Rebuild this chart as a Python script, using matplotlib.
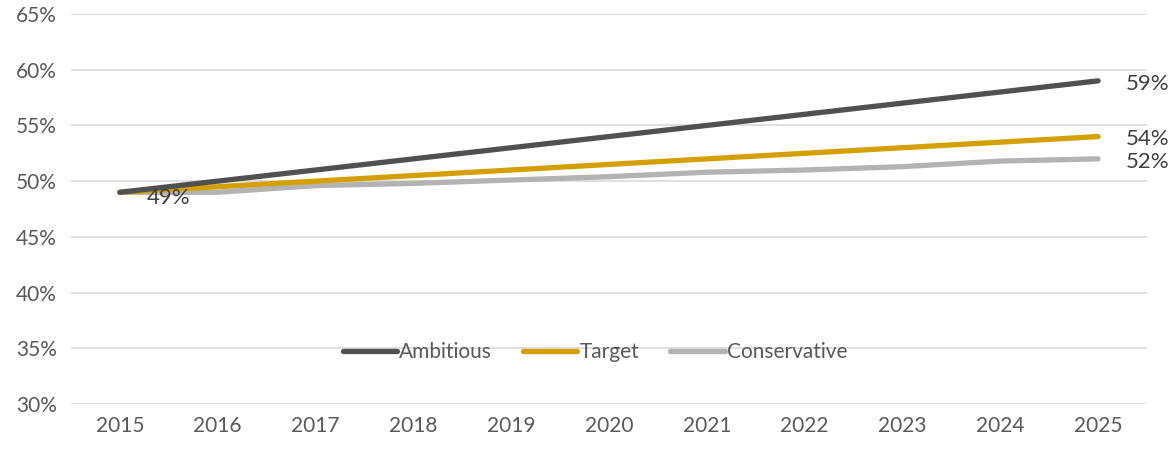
import matplotlib.pyplot as plt
from matplotlib.ticker import FuncFormatter

years = [2015, 2016, 2017, 2018, 2019, 2020, 2021, 2022, 2023, 2024, 2025]
ambitious = [49, 50, 51, 52, 53, 54, 55, 56, 57, 58, 59]
target = [49, 49.5, 50, 50.5, 51, 51.5, 52, 52.5, 53, 53.5, 54]
conservative = [49, 49, 49.6, 49.8, 50.1, 50.4, 50.8, 51.0, 51.3, 51.8, 52.0]

plt.rcParams['font.family'] = ['Lato', 'DejaVu Sans']

fig = plt.figure(figsize=(11.73, 4.5), dpi=100)
ax = fig.add_axes([71 / 1173, 46 / 450, 1076 / 1173, 390 / 450])

x = list(range(len(years)))
series = [("Ambitious", ambitious, "#505050"),
          ("Target", target, "#D4A000"),
          ("Conservative", conservative, "#B3B3B3")]
# draw conservative first so darker lines sit on top
for name, vals, col in reversed(series):
    ax.plot(x, vals, color=col, lw=3.8, solid_capstyle='round', label=name)

ax.set_xlim(-0.5, len(years) - 0.5)
ax.set_ylim(30, 65)
ax.set_yticks(range(30, 66, 5))
ax.yaxis.set_major_formatter(FuncFormatter(lambda v, p: f"{int(v)}%"))
ax.set_xticks(x)
ax.set_xticklabels([str(y) for y in years])
ax.tick_params(length=0, labelsize=15, colors="#595959", pad=9)
ax.tick_params(axis='y', pad=10)
ax.grid(axis='y', color="#D9D9D9", lw=1.2)
ax.set_axisbelow(True)
for s in ax.spines.values():
    s.set_visible(False)

for name, vals, col in series:
    ax.annotate(f"{vals[-1]:.0f}%", (x[-1], vals[-1]), xytext=(20, -2),
                textcoords='offset points', va='center', ha='left',
                fontsize=16, color="#404040")
ax.annotate(f"{ambitious[0]}%", (x[0], ambitious[0]), xytext=(35, -4),
            textcoords='offset points', va='center', ha='center',
            fontsize=16, color="#404040")

h, l = ax.get_legend_handles_labels()
leg = ax.legend(h[::-1], l[::-1], loc='center', bbox_to_anchor=(0.487, 0.133),
                ncol=3, frameon=False, fontsize=15, handlelength=2.6,
                handletextpad=0.1, columnspacing=1.5)
for t in leg.get_texts():
    t.set_color("#595959")

fig.savefig("out.png", dpi=100)
